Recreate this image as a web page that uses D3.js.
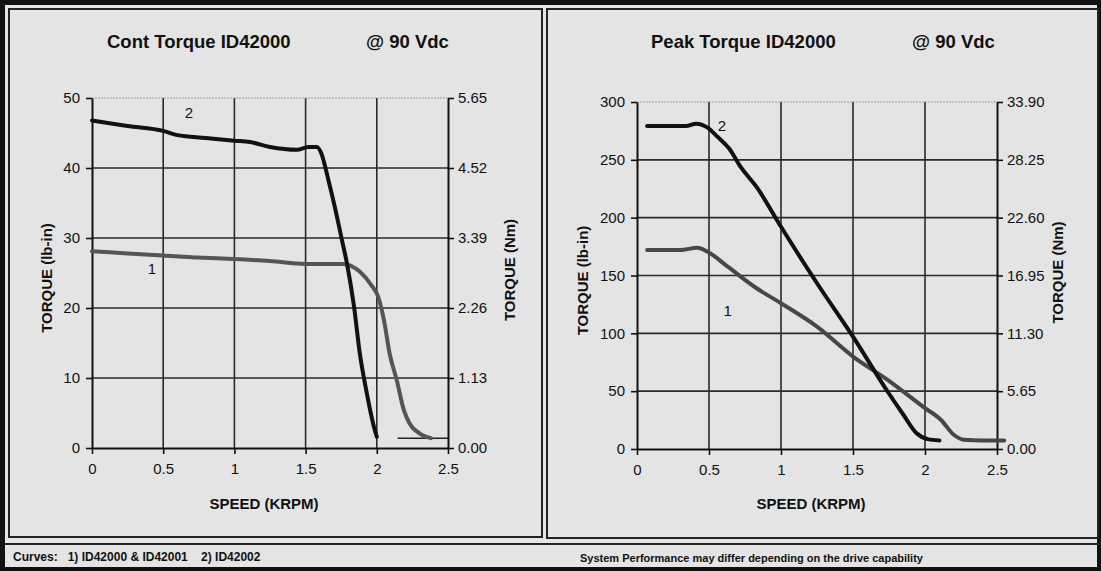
<!DOCTYPE html>
<html>
<head>
<meta charset="utf-8">
<script src="https://cdn.jsdelivr.net/npm/d3@7"></script>
<style>
  body { margin: 0; background: #e4e4e4; }
  svg { display: block; font-family: "Liberation Sans", Arial, sans-serif; }
</style>
</head>
<body>
<div id="chart"></div>
<script>
// speed ticks (krpm)
var speedTicks = [0, 0.5, 1, 1.5, 2, 2.5];

// continuous torque (lb-in), [speed, torque]
var contCurve1 = [[0, 28.1], [0.25, 27.8], [0.5, 27.5], [0.75, 27.2], [1.0, 27.0], [1.25, 26.7], [1.5, 26.3],
  [1.76, 26.3], [1.88, 25.2], [1.96, 23.3], [2.01, 21.6], [2.05, 18.3], [2.09, 13.5], [2.14, 9.7],
  [2.19, 5.4], [2.23, 3.5], [2.30, 2.1], [2.38, 1.4]];
var contCurve2 = [[0, 46.8], [0.25, 46.0], [0.5, 45.3], [0.6, 44.7], [0.8, 44.3], [1.0, 43.9], [1.11, 43.7],
  [1.25, 43.0], [1.44, 42.6], [1.52, 43.0], [1.58, 43.0], [1.61, 42.1], [1.66, 38.3], [1.71, 34.0],
  [1.75, 30.2], [1.79, 26.4], [1.84, 20.2], [1.88, 13.6], [1.93, 7.8], [1.98, 3.0], [2.0, 1.6]];
var contTail = [[2.15, 1.4], [2.5, 1.4]];
var contTicksLb = [0, 10, 20, 30, 40, 50];
var contTicksNm = ["0.00", "1.13", "2.26", "3.39", "4.52", "5.65"];

// peak torque (lb-in)
var peakCurve1 = [[0.07, 172], [0.30, 172], [0.42, 174], [0.49, 170.6], [0.63, 157.6], [0.83, 139],
  [1.0, 126], [1.25, 105.8], [1.5, 79.9], [1.74, 59.8], [2.0, 35.4], [2.11, 25.3], [2.2, 12.3],
  [2.27, 8.0], [2.4, 7.4], [2.55, 7.4]];
var peakCurve2 = [[0.07, 279.3], [0.34, 279.3], [0.41, 281.3], [0.49, 277.9], [0.56, 269.8], [0.64, 259.8],
  [0.72, 243.9], [0.83, 226.6], [1.0, 192.1], [1.25, 143.3], [1.5, 97.2], [1.74, 49.7], [1.85, 29.6],
  [1.94, 13.8], [2.02, 8.5], [2.1, 7.4]];
var peakTicksLb = [0, 50, 100, 150, 200, 250, 300];
var peakTicksNm = ["0.00", "5.65", "11.30", "16.95", "22.60", "28.25", "33.90"];

var svg = d3.select("#chart").append("svg")
  .attr("width", 1101)
  .attr("height", 571);

svg.append("rect").attr("width", 1101).attr("height", 571).attr("fill", "#e4e4e4");

// frames
svg.append("rect").attr("x", 2).attr("y", 2).attr("width", 1097).attr("height", 567)
  .attr("fill", "none").attr("stroke", "#111").attr("stroke-width", 4);
svg.append("rect").attr("x", 0).attr("y", 0).attr("width", 1101).attr("height", 5).attr("fill", "#111");
svg.append("rect").attr("x", 0).attr("y", 0).attr("width", 5).attr("height", 571).attr("fill", "#111");
svg.append("rect").attr("x", 9).attr("y", 9).attr("width", 533).attr("height", 528)
  .attr("fill", "none").attr("stroke", "#222").attr("stroke-width", 2);
svg.append("rect").attr("x", 547).attr("y", 9).attr("width", 551).attr("height", 529)
  .attr("fill", "none").attr("stroke", "#222").attr("stroke-width", 2);
svg.append("line").attr("x1", 4).attr("x2", 1101).attr("y1", 544).attr("y2", 544)
  .attr("stroke", "#222").attr("stroke-width", 2);

function drawPanel(opt) {
  var x = d3.scaleLinear().domain([0, 2.5]).range(opt.xr);
  var y = d3.scaleLinear().domain([0, opt.ymax]).range(opt.yr);
  var g = svg.append("g");

  // grid
  g.selectAll(".vg").data(speedTicks.slice(1, -1)).enter().append("line")
    .attr("x1", d => x(d)).attr("x2", d => x(d))
    .attr("y1", y(0)).attr("y2", y(opt.ymax))
    .attr("stroke", "#2a2a2a").attr("stroke-width", 1.6);
  g.selectAll(".hg").data(opt.lbTicks.slice(1, -1)).enter().append("line")
    .attr("x1", x(0)).attr("x2", x(2.5))
    .attr("y1", d => y(d)).attr("y2", d => y(d))
    .attr("stroke", "#2a2a2a").attr("stroke-width", 1.6);
  g.append("line")
    .attr("x1", x(0)).attr("x2", x(2.5))
    .attr("y1", y(opt.ymax)).attr("y2", y(opt.ymax))
    .attr("stroke", "#999").attr("stroke-width", 1.2).attr("stroke-dasharray", "2,1");

  // axes
  var left = g.append("g").attr("transform", "translate(" + x(0) + ",0)")
    .call(d3.axisLeft(y).tickValues(opt.lbTicks).tickSize(6).tickPadding(6).tickSizeOuter(0));
  var right = g.append("g").attr("transform", "translate(" + x(2.5) + ",0)")
    .call(d3.axisRight(y).tickValues(opt.lbTicks).tickSize(6).tickPadding(4).tickSizeOuter(0)
      .tickFormat((d, i) => opt.nmTicks[i]));
  var bottom = g.append("g").attr("transform", "translate(0," + y(0) + ")")
    .call(d3.axisBottom(x).tickValues(speedTicks).tickSize(6).tickPadding(9).tickSizeOuter(0)
      .tickFormat(d3.format("")));
  [left, right, bottom].forEach(function(a) {
    a.selectAll("path.domain").attr("stroke", "#111").attr("stroke-width", 2);
    a.selectAll(".tick line").attr("stroke", "#111").attr("stroke-width", 1.6);
    a.selectAll(".tick text").attr("fill", "#111").style("font-size", "15px");
  });

  // curves
  var line = d3.line().x(d => x(d[0])).y(d => y(d[1])).curve(d3.curveMonotoneX);
  opt.series.forEach(function(s) {
    g.append("path").datum(s.data).attr("d", line)
      .attr("fill", "none").attr("stroke", s.color).attr("stroke-width", s.width)
      .attr("stroke-linejoin", "round").attr("stroke-linecap", "round");
  });
  opt.labels.forEach(function(l) {
    g.append("text").attr("x", x(l[1])).attr("y", y(l[2]))
      .attr("text-anchor", "middle").style("font-size", "15px").attr("fill", "#111").text(l[0]);
  });

  // titles
  g.append("text").attr("x", opt.titleX).attr("y", 48).style("font-size", "18.5px")
    .style("font-weight", "bold").attr("fill", "#111").text(opt.title);
  g.append("text").attr("x", opt.vdcX).attr("y", 48).style("font-size", "18.5px")
    .style("font-weight", "bold").attr("fill", "#111").text("@ 90 Vdc");
  g.append("text").attr("x", (x(0) + x(2.5)) / 2 - 6).attr("y", 509).attr("text-anchor", "middle")
    .style("font-size", "15px").style("font-weight", "bold").attr("fill", "#111").text("SPEED (KRPM)");
  g.append("text").attr("transform", "translate(" + opt.lbTitleX + "," + ((y(0) + y(opt.ymax)) / 2 + 5) + ") rotate(-90)")
    .attr("text-anchor", "middle").style("font-size", "15px").style("font-weight", "bold")
    .attr("fill", "#111").text("TORQUE (lb-in)");
  g.append("text").attr("transform", "translate(" + opt.nmTitleX + "," + ((y(0) + y(opt.ymax)) / 2 - 3) + ") rotate(-90)")
    .attr("text-anchor", "middle").style("font-size", "15px").style("font-weight", "bold")
    .attr("fill", "#111").text("TORQUE (Nm)");
}

drawPanel({
  xr: [92, 448], yr: [448, 98], ymax: 50,
  lbTicks: contTicksLb, nmTicks: contTicksNm,
  series: [
    {data: contTail, color: "#222", width: 1.5},
    {data: contCurve1, color: "#555", width: 4},
    {data: contCurve2, color: "#111", width: 4}
  ],
  labels: [["2", 0.68, 47.2], ["1", 0.42, 24.9]],
  title: "Cont Torque ID42000", titleX: 107, vdcX: 366,
  lbTitleX: 52, nmTitleX: 515
});

drawPanel({
  xr: [637, 997], yr: [449, 102], ymax: 300,
  lbTicks: peakTicksLb, nmTicks: peakTicksNm,
  series: [
    {data: peakCurve1, color: "#474747", width: 4},
    {data: peakCurve2, color: "#111", width: 4}
  ],
  labels: [["2", 0.59, 275], ["1", 0.63, 115]],
  title: "Peak Torque ID42000", titleX: 651, vdcX: 912,
  lbTitleX: 588, nmTitleX: 1063
});

// footer
svg.append("text").attr("x", 13).attr("y", 561).style("font-size", "12px").style("font-weight", "bold")
  .style("white-space", "pre").attr("fill", "#111").text("Curves:   1) ID42000 & ID42001    2) ID42002");
svg.append("text").attr("x", 580).attr("y", 562).style("font-size", "11px").style("font-weight", "bold")
  .attr("fill", "#111").text("System Performance may differ depending on the drive capability");
</script>
</body>
</html>
